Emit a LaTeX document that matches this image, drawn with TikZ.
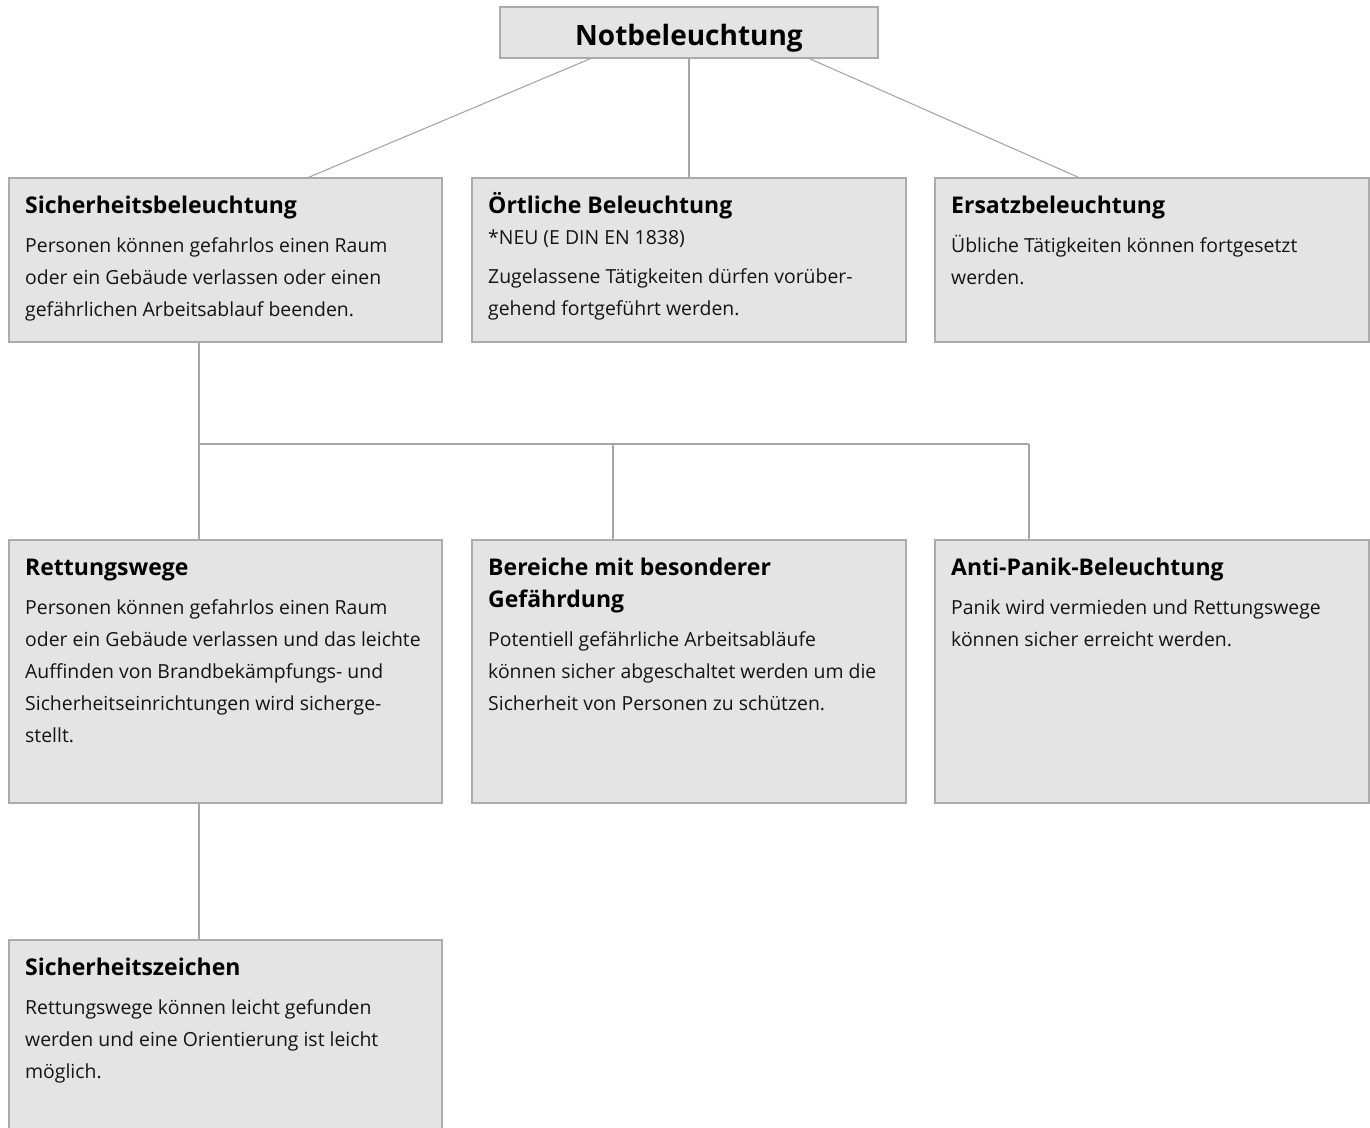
\documentclass[tikz,border=0pt]{standalone}
\usepackage{fontspec}
\setmainfont{Open Sans}
\definecolor{boxfill}{HTML}{E3E4E3}
\definecolor{boxline}{HTML}{ABABAB}
\definecolor{conn}{HTML}{A6A6A6}
\begin{document}
\begin{tikzpicture}[x=1pt,y=-1pt,
  box/.style={draw=boxline,fill=boxfill,line width=1.3pt,inner sep=0pt,outer sep=0pt,anchor=north west},
  ttl/.style={anchor=base west,inner sep=0pt,font=\fontsize{23}{32}\selectfont\bfseries},
  body/.style={anchor=base west,inner sep=0pt,font=\fontsize{19.4}{32}\selectfont,text=black!92},
  link/.style={draw=conn,line width=1.1pt}]
\useasboundingbox (0,0) rectangle (1370,1127);
% boxes
\node[box,minimum width=378pt,minimum height=51pt] (top) at (500,7) {};
\node[box,minimum width=433pt,minimum height=164pt] (sb) at (9,178) {};
\node[box,minimum width=434pt,minimum height=164pt] (ob) at (472,178) {};
\node[box,minimum width=434pt,minimum height=164pt] (eb) at (935,178) {};
\node[box,minimum width=433pt,minimum height=263pt] (rw) at (9,540) {};
\node[box,minimum width=434pt,minimum height=263pt] (bg) at (472,540) {};
\node[box,minimum width=434pt,minimum height=263pt] (ap) at (935,540) {};
\node[box,minimum width=433pt,minimum height=220pt] (sz) at (9,940) {};
% texts
\node[anchor=base,inner sep=0pt,font=\fontsize{28}{32}\selectfont\bfseries] (topt) at (689,45) {Notbeleuchtung};
\node[ttl] (sbt) at (25,213) {Sicherheitsbeleuchtung};
\node[body] (sbb) at (25,252) {\parbox[t]{420pt}{\raggedright Personen können gefahrlos einen Raum\\oder ein Gebäude verlassen oder einen\\gefährlichen Arbeitsablauf beenden.}};
\node[ttl] (obt) at (488,213) {Örtliche Beleuchtung};
\node[body] (obn) at (488,244) {*NEU (E DIN EN 1838)};
\node[body] (obb) at (488,283) {\parbox[t]{420pt}{\raggedright Zugelassene Tätigkeiten dürfen vorüber-\\gehend fortgeführt werden.}};
\node[ttl] (ebt) at (951,213) {Ersatzbeleuchtung};
\node[body] (ebb) at (951,252) {\parbox[t]{420pt}{\raggedright Übliche Tätigkeiten können fortgesetzt\\werden.}};
\node[ttl] (rwt) at (25,575) {Rettungswege};
\node[body] (rwb) at (25,614) {\parbox[t]{420pt}{\raggedright Personen können gefahrlos einen Raum\\oder ein Gebäude verlassen und das leichte\\Auffinden von Brandbekämpfungs- und\\Sicherheitseinrichtungen wird sicherge-\\stellt.}};
\node[ttl] (bgt) at (488,575) {\parbox[t]{420pt}{\raggedright Bereiche mit besonderer\\Gefährdung}};
\node[body] (bgb) at (488,646) {\parbox[t]{420pt}{\raggedright Potentiell gefährliche Arbeitsabläufe\\können sicher abgeschaltet werden um die\\Sicherheit von Personen zu schützen.}};
\node[ttl] (apt) at (951,575) {Anti-Panik-Beleuchtung};
\node[body] (apb) at (951,614) {\parbox[t]{420pt}{\raggedright Panik wird vermieden und Rettungswege\\können sicher erreicht werden.}};
\node[ttl] (szt) at (25,975) {Sicherheitszeichen};
\node[body] (szb) at (25,1014) {\parbox[t]{420pt}{\raggedright Rettungswege können leicht gefunden\\werden und eine Orientierung ist leicht\\möglich.}};
% connectors
\coordinate (j) at (199,444);
\coordinate (jm) at (613,444);
\coordinate (jr) at (1029,444);
\draw[link] ([xshift=92pt]top.south west) -- ([xshift=298pt]sb.north west);
\draw[link] (top.south) -- (ob.north -| top.south);
\draw[link] ([xshift=-70pt]top.south east) -- ([xshift=145pt]eb.north west);
\draw[link] (sb.south -| j) -- (j) -- (jr);
\draw[link] (j) -- (rw.north -| j);
\draw[link] (jm) -- (bg.north -| jm);
\draw[link] (jr) -- (ap.north -| jr);
\draw[link] (rw.south -| j) -- (sz.north -| j);
\end{tikzpicture}
\end{document}
